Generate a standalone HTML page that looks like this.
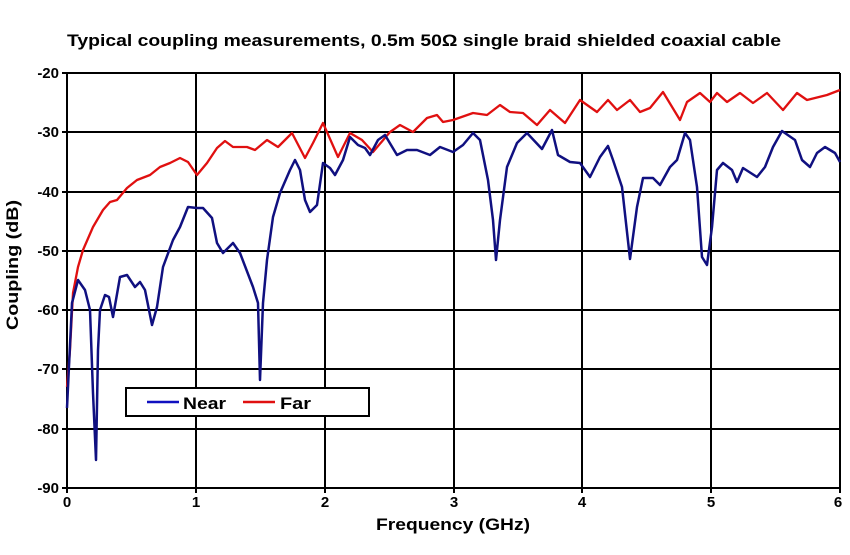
<!DOCTYPE html>
<html><head><style>
body{margin:0;background:#fff;}
svg text{font-family:"Liberation Sans",Arial,sans-serif;font-weight:bold;fill:#000;}
</style></head><body>
<svg width="850" height="550" viewBox="0 0 850 550" xmlns="http://www.w3.org/2000/svg">
<text x="67" y="46" font-size="17" textLength="714" lengthAdjust="spacingAndGlyphs">Typical coupling measurements, 0.5m 50Ω single braid shielded coaxial cable</text>
<g stroke="#000" stroke-width="2" fill="none">
<line x1="67" y1="73" x2="840" y2="73"/><line x1="67" y1="132" x2="840" y2="132"/>
<line x1="67" y1="192" x2="840" y2="192"/><line x1="67" y1="251" x2="840" y2="251"/>
<line x1="67" y1="310" x2="840" y2="310"/><line x1="67" y1="369" x2="840" y2="369"/>
<line x1="67" y1="429" x2="840" y2="429"/><line x1="62" y1="488" x2="840" y2="488"/>
<line x1="62" y1="73" x2="67" y2="73"/><line x1="62" y1="132" x2="67" y2="132"/><line x1="62" y1="192" x2="67" y2="192"/><line x1="62" y1="251" x2="67" y2="251"/><line x1="62" y1="310" x2="67" y2="310"/><line x1="62" y1="369" x2="67" y2="369"/><line x1="62" y1="429" x2="67" y2="429"/>
<line x1="67" y1="73" x2="67" y2="493"/><line x1="196" y1="73" x2="196" y2="493"/>
<line x1="325" y1="73" x2="325" y2="493"/><line x1="454" y1="73" x2="454" y2="493"/>
<line x1="582" y1="73" x2="582" y2="493"/><line x1="711" y1="73" x2="711" y2="493"/>
<line x1="840" y1="73" x2="840" y2="493"/>
</g>
<g font-size="15" text-anchor="end">
<text x="59" y="78">-20</text><text x="59" y="137">-30</text><text x="59" y="197">-40</text><text x="59" y="256">-50</text><text x="59" y="315">-60</text><text x="59" y="374">-70</text><text x="59" y="434">-80</text><text x="59" y="493">-90</text>
</g>
<g font-size="15" text-anchor="middle">
<text x="67" y="507">0</text><text x="196" y="507">1</text><text x="325" y="507">2</text><text x="454" y="507">3</text><text x="582" y="507">4</text><text x="711" y="507">5</text><text x="838" y="507">6</text>
</g>
<text x="376" y="530" font-size="17" textLength="154" lengthAdjust="spacingAndGlyphs">Frequency (GHz)</text>
<text transform="translate(18,330) rotate(-90)" font-size="17" textLength="130" lengthAdjust="spacingAndGlyphs">Coupling (dB)</text>
<polyline fill="none" stroke="#e01010" stroke-width="2.3" stroke-linejoin="round" points="67,387 70,350 73,293 78,267 83,250 93,227 103,210 110,202 117,200 127,188 137,180 150,175 160,167 170,163 180,158 188,162 197,175 207,163 217,148 225,141 233,147 247,147 255,150 267,140 278,147 292,133 305,158 313,143 323,123 338,157 350,133 362,140 373,152 390,132 400,125 413,132 427,118 437,115 443,122 453,120 473,113 487,115 500,105 510,112 523,113 537,125 550,110 565,123 580,100 597,112 608,100 617,110 630,100 640,112 650,108 663,92 680,120 687,102 700,93 710,102 717,93 727,102 740,93 753,103 767,93 783,110 797,93 807,100 827,95 840,90"/>
<polyline fill="none" stroke="#101080" stroke-width="2.5" stroke-linejoin="round" points="67,408 72,303 78,280 85,290 90,310 93,393 96,460 98,350 100,310 105,295 109,297 113,317 120,277 127,275 135,287 140,282 145,290 152,325 157,307 163,267 173,240 180,227 188,207 197,208 203,208 212,218 217,243 223,253 233,243 240,253 253,287 258,303 260,380 263,303 267,260 273,217 280,193 290,170 295,160 300,170 305,200 310,212 317,205 323,163 330,168 335,175 343,160 350,137 358,145 365,148 370,155 378,140 385,135 397,155 407,150 417,150 430,155 440,147 453,152 463,145 473,133 480,140 488,180 493,220 496,260 500,220 507,167 517,143 527,133 542,149 552,130 558,155 570,162 580,163 590,177 600,157 608,146 613,160 622,187 630,259 637,207 643,178 653,178 660,185 670,167 677,160 685,133 690,140 697,187 702,257 707,265 712,227 717,170 723,163 732,170 737,182 743,168 757,177 765,167 773,147 782,131 795,140 802,160 810,167 817,153 825,147 835,153 840,162"/>
<rect x="126" y="388" width="243" height="28" fill="#fff" stroke="#000" stroke-width="2"/>
<line x1="147" y1="402" x2="179" y2="402" stroke="#1010c0" stroke-width="2.5"/>
<text x="183" y="409" font-size="17" textLength="43" lengthAdjust="spacingAndGlyphs">Near</text>
<line x1="243" y1="402" x2="275" y2="402" stroke="#e01010" stroke-width="2.5"/>
<text x="280" y="409" font-size="17" textLength="31" lengthAdjust="spacingAndGlyphs">Far</text>
</svg>
</body></html>
